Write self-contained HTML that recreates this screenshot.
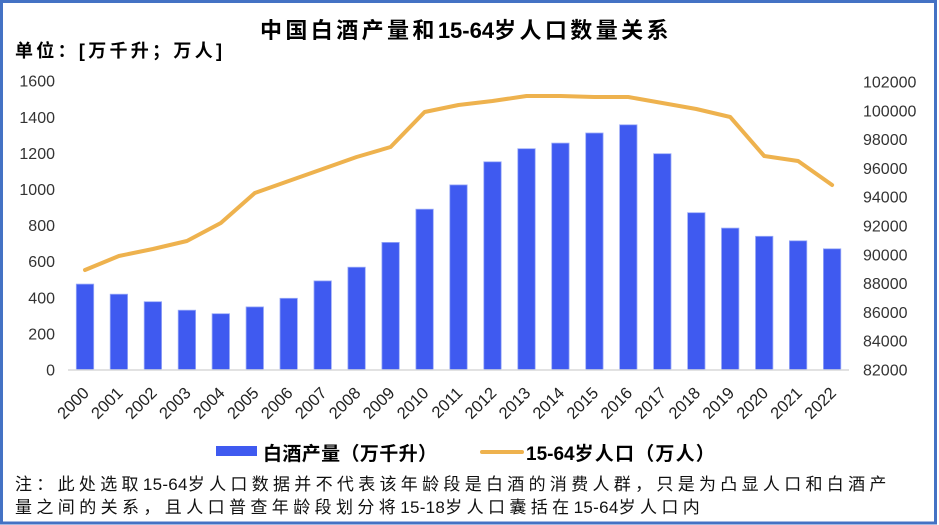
<!DOCTYPE html>
<html>
<head>
<meta charset="utf-8">
<style>
html,body{margin:0;padding:0;background:#fff;}
svg{display:block;}
.t{font-family:"Liberation Sans","Noto Sans CJK SC",sans-serif;}
</style>
</head>
<body>
<svg width="939" height="525" viewBox="0 0 939 525" xmlns="http://www.w3.org/2000/svg">
<rect x="0" y="0" width="939" height="525" fill="#fff"/>
<rect x="1.5" y="1.5" width="934" height="521.5" fill="none" stroke="#4472C4" stroke-width="3"/>

<!-- Title -->
<text class="t" x="260" y="38" font-size="22" font-weight="bold" fill="#000" letter-spacing="3.4">中国白酒产量和<tspan letter-spacing="0">15-64</tspan><tspan>岁人口数量关系</tspan></text>
<text class="t" x="15" y="57" font-size="18" font-weight="bold" fill="#000" textLength="207" lengthAdjust="spacing">单位：[万千升；万人]</text>

<!-- Left axis labels -->
<g class="t" font-size="16" fill="#333" text-anchor="end">
<text x="55" y="375.5">0</text>
<text x="55" y="339.4">200</text>
<text x="55" y="303.3">400</text>
<text x="55" y="267.2">600</text>
<text x="55" y="231.1">800</text>
<text x="55" y="195">1000</text>
<text x="55" y="158.9">1200</text>
<text x="55" y="122.8">1400</text>
<text x="55" y="86.7">1600</text>
</g>

<!-- Right axis labels -->
<g class="t" font-size="16" fill="#333">
<text x="863" y="375.5">82000</text>
<text x="863" y="346.7">84000</text>
<text x="863" y="317.9">86000</text>
<text x="863" y="289.1">88000</text>
<text x="863" y="260.3">90000</text>
<text x="863" y="231.5">92000</text>
<text x="863" y="202.7">94000</text>
<text x="863" y="173.9">96000</text>
<text x="863" y="145.1">98000</text>
<text x="863" y="116.3">100000</text>
<text x="863" y="87.5">102000</text>
</g>

<!-- Bars -->
<g fill="#3F5AF0" stroke="#9AAAF7" stroke-width="0.8">
<rect x="76.3" y="284.1" width="17.4" height="85.9"/>
<rect x="110.2" y="294.2" width="17.4" height="75.8"/>
<rect x="144.2" y="301.7" width="17.4" height="68.3"/>
<rect x="178.2" y="310.2" width="17.4" height="59.8"/>
<rect x="212.1" y="313.7" width="17.4" height="56.3"/>
<rect x="246.1" y="306.9" width="17.4" height="63.1"/>
<rect x="280.0" y="298.3" width="17.4" height="71.7"/>
<rect x="314.0" y="280.9" width="17.4" height="89.1"/>
<rect x="347.9" y="267.2" width="17.4" height="102.8"/>
<rect x="381.9" y="242.4" width="17.4" height="127.6"/>
<rect x="415.9" y="209.2" width="17.4" height="160.8"/>
<rect x="449.8" y="184.9" width="17.4" height="185.1"/>
<rect x="483.8" y="161.8" width="17.4" height="208.2"/>
<rect x="517.8" y="148.7" width="17.4" height="221.3"/>
<rect x="551.7" y="143.1" width="17.4" height="226.9"/>
<rect x="585.7" y="133.0" width="17.4" height="237.0"/>
<rect x="619.6" y="124.8" width="17.4" height="245.2"/>
<rect x="653.6" y="153.7" width="17.4" height="216.3"/>
<rect x="687.6" y="212.7" width="17.4" height="157.3"/>
<rect x="721.5" y="228.1" width="17.4" height="141.9"/>
<rect x="755.5" y="236.3" width="17.4" height="133.7"/>
<rect x="789.4" y="240.8" width="17.4" height="129.2"/>
<rect x="823.4" y="248.8" width="17.4" height="121.2"/>
</g>

<!-- Axis line -->
<line x1="68" y1="370" x2="849" y2="370" stroke="#D9D9D9" stroke-width="1.5"/>

<!-- Population line -->
<polyline fill="none" stroke="#EEB24E" stroke-width="4" stroke-linejoin="round" stroke-linecap="round"
points="85,270 118.9,256 152.9,249 186.9,241 220.8,223 254.8,193 288.7,181 322.7,169 356.6,157 390.6,147 424.6,112 458.5,105 492.5,101 526.5,96 560.4,96 594.4,97 628.3,97 662.3,103 696.3,109 730.2,117 764.2,156 798.1,161 832.1,185"/>

<!-- X labels -->
<g class="t" font-size="16.5" fill="#222" text-anchor="end">
<text transform="translate(90,394) rotate(-45)">2000</text>
<text transform="translate(123.9,394) rotate(-45)">2001</text>
<text transform="translate(157.9,394) rotate(-45)">2002</text>
<text transform="translate(191.9,394) rotate(-45)">2003</text>
<text transform="translate(225.8,394) rotate(-45)">2004</text>
<text transform="translate(259.8,394) rotate(-45)">2005</text>
<text transform="translate(293.7,394) rotate(-45)">2006</text>
<text transform="translate(327.7,394) rotate(-45)">2007</text>
<text transform="translate(361.6,394) rotate(-45)">2008</text>
<text transform="translate(395.6,394) rotate(-45)">2009</text>
<text transform="translate(429.6,394) rotate(-45)">2010</text>
<text transform="translate(463.5,394) rotate(-45)">2011</text>
<text transform="translate(497.5,394) rotate(-45)">2012</text>
<text transform="translate(531.5,394) rotate(-45)">2013</text>
<text transform="translate(565.4,394) rotate(-45)">2014</text>
<text transform="translate(599.4,394) rotate(-45)">2015</text>
<text transform="translate(633.3,394) rotate(-45)">2016</text>
<text transform="translate(667.3,394) rotate(-45)">2017</text>
<text transform="translate(701.3,394) rotate(-45)">2018</text>
<text transform="translate(735.2,394) rotate(-45)">2019</text>
<text transform="translate(769.2,394) rotate(-45)">2020</text>
<text transform="translate(803.1,394) rotate(-45)">2021</text>
<text transform="translate(837.1,394) rotate(-45)">2022</text>
</g>

<!-- Legend -->
<rect x="216" y="446" width="41" height="10" fill="#3F5AF0"/>
<text class="t" x="263" y="460" font-size="19" font-weight="bold" fill="#000" textLength="174" lengthAdjust="spacing">白酒产量（万千升）</text>
<line x1="482" y1="452" x2="522" y2="452" stroke="#EEB24E" stroke-width="4" stroke-linecap="round"/>
<text class="t" x="526" y="460" font-size="19" font-weight="bold" fill="#000" letter-spacing="1.2"><tspan letter-spacing="0">15-64</tspan><tspan>岁人口（万人）</tspan></text>

<!-- Note -->
<text class="t" x="15" y="490" font-size="17" fill="#111" letter-spacing="4.3">注：此处选取<tspan letter-spacing="0.3">15-64</tspan><tspan>岁人口数据并不代表该年龄段是白酒的消费人群，只是为凸显人口和白酒产</tspan></text>
<text class="t" x="15" y="513" font-size="17" fill="#111" letter-spacing="4.4">量之间的关系，且人口普查年龄段划分将<tspan letter-spacing="0.3">15-18</tspan><tspan>岁人口囊括在</tspan><tspan letter-spacing="0.3">15-64</tspan><tspan>岁人口内</tspan></text>
</svg>
</body>
</html>
